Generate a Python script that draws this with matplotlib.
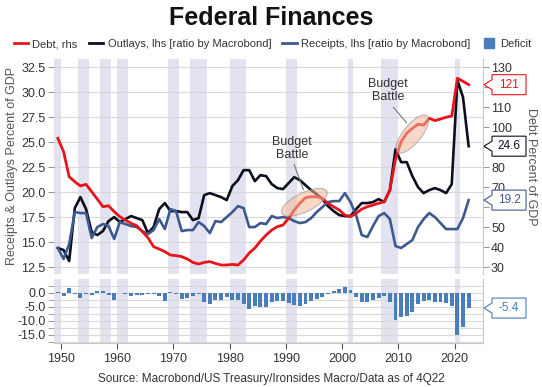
import numpy as np
import matplotlib
matplotlib.use("Agg")
import matplotlib.pyplot as plt
import matplotlib.transforms as mtransforms
from matplotlib.patches import Ellipse, Polygon
from matplotlib.lines import Line2D

plt.rcParams['font.family'] = ['Liberation Sans', 'DejaVu Sans']

# datos anuales 1949-2022
years = np.arange(1949, 2023)

outlays = [14.4, 14.2, 13.1, 18.4, 19.5, 18.3, 16.0, 15.7, 16.1, 17.1,
           17.5, 17.0, 17.3, 17.6, 17.4, 17.2, 15.9, 16.5, 18.3, 18.9,
           18.1, 18.1, 18.0, 18.0, 17.2, 17.4, 19.7, 19.9, 19.7, 19.5,
           19.2, 20.6, 21.2, 22.2, 22.2, 21.1, 21.7, 21.6, 20.8, 20.4,
           20.3, 20.9, 21.5, 21.2, 20.7, 20.2, 19.8, 19.3, 18.6, 18.1,
           17.7, 17.6, 17.6, 18.3, 18.9, 18.9, 19.0, 19.3, 19.0, 20.2,
           24.3, 23.0, 23.0, 21.6, 20.5, 19.9, 20.2, 20.4, 20.2, 19.9,
           20.8, 31.2, 29.5, 24.6]

receipts = [14.4, 13.3, 14.8, 18.0, 17.9, 17.9, 15.4, 16.5, 16.8, 16.6,
            15.3, 17.0, 16.8, 16.6, 16.5, 16.1, 15.8, 16.2, 17.3, 16.3,
            18.3, 18.1, 16.1, 16.2, 16.2, 17.0, 16.6, 15.9, 17.1, 17.0,
            17.5, 18.0, 18.6, 18.4, 16.5, 16.5, 16.9, 16.8, 17.6, 17.4,
            17.5, 17.4, 17.1, 16.9, 17.0, 17.4, 18.0, 18.5, 19.0, 19.1,
            19.1, 19.9, 19.0, 17.7, 15.7, 15.5, 16.6, 17.6, 17.9, 17.3,
            14.6, 14.4, 14.8, 15.2, 16.5, 17.3, 17.9, 17.5, 16.9, 16.3,
            16.3, 16.3, 17.4, 19.2]

debt = [94.4, 87.8, 75.2, 72.7, 70.6, 71.4, 67.7, 64.0, 60.2, 60.7,
        57.7, 55.2, 53.5, 51.9, 50.7, 47.7, 44.7, 40.2, 39.0, 37.7,
        36.0, 35.7, 35.2, 34.0, 32.3, 31.5, 32.3, 32.7, 31.8, 31.0,
        31.0, 31.3, 31.0, 33.5, 37.0, 39.5, 43.0, 46.0, 48.5, 50.2,
        51.0, 54.4, 58.5, 61.9, 64.7, 65.2, 65.2, 64.4, 61.9, 60.2,
        58.5, 56.0, 55.2, 56.9, 59.0, 60.2, 61.0, 61.9, 62.7, 68.6,
        84.0, 92.8, 97.0, 99.4, 101.5, 101.1, 104.5, 103.3, 104.1, 105.0,
        105.6, 124.5, 123.0, 121.3]

deficit = [0.2, -1.1, 1.8, -0.4, -1.7, -0.3, -0.7, 0.8, 0.7, -0.6,
           -2.5, 0.1, -0.5, -1.2, -0.8, -0.8, -0.2, -0.5, -1.0, -2.8,
           0.3, -0.3, -2.0, -1.9, -1.1, -0.4, -3.3, -4.0, -2.6, -2.6,
           -1.6, -2.6, -2.5, -3.9, -5.8, -4.7, -5.0, -4.9, -3.1, -3.0,
           -2.7, -3.7, -4.4, -4.5, -3.8, -2.8, -2.2, -1.3, -0.3, 0.8,
           1.3, 2.3, 1.2, -1.5, -3.3, -3.4, -2.5, -1.8, -1.1, -3.1,
           -9.8, -8.6, -8.3, -6.7, -4.0, -2.8, -2.4, -3.1, -3.4, -3.7,
           -4.6, -14.9, -12.1, -5.4]

# recesiones (inicio, fin)
recession_start = [1948, 1953, 1957, 1960, 1969, 1973, 1980, 1990, 2001, 2007, 2020]
recession_end = [1950, 1955, 1959, 1962, 1971, 1976, 1983, 1992, 2002, 2010, 2021]

# marcas del eje derecho que quedan tapadas por las etiquetas
debt_ticks = [30, 40, 50, 60, 70, 80, 90, 100, 110, 120, 130]
debt_tick_labels = ["30", "40", "50", "", "70", "80", "", "100", "110", "", "130"]

RED = "#e8141b"
BLACK = "#0b0f1e"
BLUE = "#3d5a8e"
BAR = "#4a7dbb"
SHADE = "#e2e2f0"
GRID = "#d9d9d9"
TXT = "#333333"

x = years + 0.5
xlim = (1948.8, 2025.0)

fig = plt.figure(figsize=(5.42, 3.87), dpi=100)
ax = fig.add_axes([0.0996, 0.292, 0.7910, 0.5555])
ax2 = fig.add_axes([0.0996, 0.1137, 0.7910, 0.1653])
ax_r = ax.twinx()

for a in (ax, ax2):
    for s, e in zip(recession_start, recession_end):
        a.axvspan(s, e, color=SHADE, lw=0, zorder=0)
    a.set_xlim(*xlim)

# panel superior
left_lim = (11.8, 33.33)
ax.set_ylim(*left_lim)
ax_r.set_ylim(30 + (left_lim[0] - 12.5) * 5, 30 + (left_lim[1] - 12.5) * 5)

ax.set_yticks(np.arange(12.5, 33, 2.5))
ax.yaxis.set_major_formatter(matplotlib.ticker.FormatStrFormatter("%.1f"))
ax.grid(axis="y", color=GRID, lw=0.8, zorder=1)
ax.set_axisbelow(True)
ax.set_xticks([])
ax_r.set_yticks(debt_ticks)
ax_r.set_yticklabels(debt_tick_labels)

ax.plot(x, outlays, color=BLACK, lw=1.9, zorder=3)
ax.plot(x, receipts, color=BLUE, lw=1.9, zorder=3)
ax_r.plot(x, debt, color=RED, lw=2.0, zorder=3)

for a in (ax, ax_r):
    for sp in ("top", "bottom", "left"):
        a.spines[sp].set_visible(False)
    a.spines["right"].set_color("#c8c8c8")
ax.spines["right"].set_visible(False)

ax.tick_params(axis="y", length=4, color="#999999", labelsize=9, labelcolor=TXT, pad=2)
ax_r.tick_params(axis="y", length=4, color="#999999", labelsize=9, labelcolor=TXT, pad=2)

# panel inferior
ax2.bar(x, deficit, width=0.7, color=BAR, zorder=3)
ax2.set_ylim(-17.9, 5.0)
ax2.set_yticks([0, -5, -10, -15])
ax2.set_yticks(np.arange(-17.5, 5, 2.5), minor=True)
ax2.yaxis.set_major_formatter(matplotlib.ticker.FormatStrFormatter("%.1f"))
ax2.grid(axis="y", which="both", color=GRID, lw=0.8, zorder=1)
ax2.set_axisbelow(True)
ax2.set_xticks(np.arange(1950, 2021, 10))
for sp in ("top", "left"):
    ax2.spines[sp].set_visible(False)
ax2.spines["bottom"].set_color("#c8c8c8")
ax2.spines["right"].set_color("#c8c8c8")
ax2.tick_params(axis="y", which="both", length=4, color="#999999", labelsize=9,
                labelcolor=TXT, pad=2)
ax2.tick_params(axis="x", length=4, color="#555555", labelsize=9, labelcolor=TXT, pad=3)

# "Budget Battle"
def elipse(cx, cy, w, h, ang):
    tr = fig.dpi_scale_trans + mtransforms.ScaledTranslation(cx, cy, ax.transData)
    e = Ellipse((0, 0), w, h, angle=ang, transform=tr, facecolor="#f2b89a",
                alpha=0.55, edgecolor="#8a8a8a", lw=0.8, zorder=5)
    ax_r.add_artist(e)

elipse(1993.3, 18.98, 0.50, 0.19, 26)
elipse(2012.5, 25.82, 0.47, 0.18, 51)

ax.annotate("", xy=(1993.3, 19.98), xytext=(1991.3, 23.05),
            arrowprops=dict(arrowstyle="-", color="#777777", lw=0.8))
ax.annotate("", xy=(2011.8, 26.72), xytext=(2008.8, 28.72),
            arrowprops=dict(arrowstyle="-", color="#777777", lw=0.8))
ax.text(1991.05, 24.4, "Budget\nBattle", ha="center", va="center", fontsize=9,
        color=TXT, linespacing=1.15)
ax.text(2008.2, 30.2, "Budget\nBattle", ha="center", va="center", fontsize=9,
        color=TXT, linespacing=1.15)

# etiquetas de último valor
def etiqueta(a, y, texto, color):
    blend = mtransforms.blended_transform_factory(fig.transFigure, a.transData)
    tr = fig.dpi_scale_trans + mtransforms.ScaledTranslation(0.893, y, blend)
    pts = [(0, 0), (0.08, 0.05), (0.08, 0.10), (0.42, 0.10), (0.42, -0.10),
           (0.08, -0.10), (0.08, -0.05)]
    fig.add_artist(Polygon(pts, closed=True, transform=tr, facecolor="white",
                           edgecolor=color, lw=0.8))
    fig.text(0.25, 0, texto, transform=tr, ha="center", va="center",
             fontsize=8.5, color=color)

etiqueta(ax_r, debt[-1], f"{debt[-1]:.0f}", RED)
etiqueta(ax, outlays[-1], f"{outlays[-1]:.1f}", BLACK)
etiqueta(ax, receipts[-1], f"{receipts[-1]:.1f}", BLUE)
etiqueta(ax2, deficit[-1], f"{deficit[-1]:.1f}", BAR)

# textos
fig.text(0.5, 0.953, "Federal Finances", ha="center", va="center", fontsize=18,
         fontweight="bold", color="#111111")
fig.text(0.022, 0.57, "Receipts & Outlays Percent of GDP", rotation=90,
         ha="center", va="center", fontsize=9, color="#555555")
fig.text(0.98, 0.57, "Debt Percent of GDP", rotation=270,
         ha="center", va="center", fontsize=9, color="#555555")
fig.text(0.5, 0.02, "Source: Macrobond/US Treasury/Ironsides Macro/Data as of 4Q22",
         ha="center", va="center", fontsize=8.5, color=TXT)

handles = [Line2D([], [], color=RED, lw=2),
           Line2D([], [], color=BLACK, lw=2),
           Line2D([], [], color=BLUE, lw=2),
           Line2D([], [], color=BAR, marker="s", linestyle="None", markersize=7)]
labels = ["Debt, rhs", "Outlays, lhs [ratio by Macrobond]",
          "Receipts, lhs [ratio by Macrobond]", "Deficit"]
fig.legend(handles, labels, loc="center", bbox_to_anchor=(0.503, 0.886), ncol=4,
           frameon=False, fontsize=8, handlelength=1.3, handletextpad=0.4,
           columnspacing=1.0, borderpad=0, labelcolor=TXT)

fig.savefig("out.png", dpi=100)
